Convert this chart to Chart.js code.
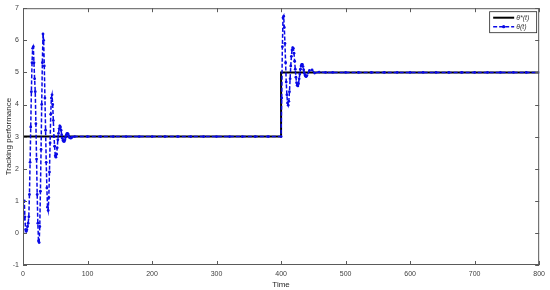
<!DOCTYPE html>
<html>
<head>
<meta charset="utf-8">
<script src="https://cdn.jsdelivr.net/npm/chart.js@4"></script>
<style>
  html, body { margin: 0; padding: 0; background: #fff; }
  canvas { display: block; }
</style>
</head>
<body>
<canvas id="chart" width="550" height="290"></canvas>
<script>
/* ── Data ─────────────────────────────────────────────────── */

/* reference signal θ*(t): step from 3 to 5 at t = 400 */
const refTime  = [0, 400, 400, 800];
const refValue = [3, 3, 5, 5];

/* tracked output θ(t) */
const outTime = [
  0, 1, 2, 3, 4, 5, 6, 7, 8, 9,
  10, 11, 12, 13, 14, 15, 16, 17, 18, 19,
  20, 21, 22, 23, 24, 25, 26, 27, 28, 29,
  30, 31, 32, 33, 34, 35, 36, 37, 38, 39,
  40, 41, 42, 43, 44, 45, 46, 47, 48, 49,
  50, 51, 52, 53, 54, 55, 56, 57, 58, 59,
  60, 61, 62, 63, 64, 65, 66, 67, 68, 69,
  70, 71, 72, 74, 76, 80,
  100, 120, 140, 160, 180, 200, 220, 240, 260, 280, 300, 320, 340, 360, 380, 400,
  401, 402, 403, 404, 405, 406, 407, 408, 409, 410,
  411, 412, 413, 414, 415, 416, 417, 418, 419, 420,
  421, 422, 423, 424, 425, 426, 427, 428, 429, 430,
  431, 432, 433, 434, 435, 436, 437, 438, 439, 440,
  444, 448, 452, 459, 469,
  480, 500, 520, 540, 560, 580, 600, 620, 640, 660, 680, 700, 720, 740, 760, 780, 800
];
const outValue = [
  0, 0.5, 1.0, 0.5, 0.1, 0.05, 0.1, 0.2, 0.3, 0.5,
  1.2, 2.2, 3.3, 4.4, 5.3, 5.75, 5.8, 5.3, 4.8, 4.4,
  3.4, 2.3, 1.2, 0.3, -0.25, -0.3, 0.2, 1.3, 2.6, 4.0,
  5.3, 6.2, 6.0, 5.2, 4.2, 3.2, 2.2, 1.4, 0.8, 0.7,
  1.1, 1.9, 2.8, 3.7, 4.2, 4.3, 4.0, 3.5, 3.0, 2.7,
  2.4, 2.36, 2.45, 2.65, 2.9, 3.1, 3.25, 3.33, 3.3, 3.2,
  3.05, 2.95, 2.88, 2.85, 2.85, 2.9, 2.98, 3.05, 3.09, 3.1,
  3.08, 3.02, 2.97, 2.95, 2.98, 3.0,
  3, 3, 3, 3, 3, 3, 3, 3, 3, 3, 3, 3, 3, 3, 3, 3,
  4.2, 5.8, 6.7, 6.75, 6.4, 5.9, 5.3, 4.7, 4.3, 4.05,
  3.98, 4.1, 4.4, 4.8, 5.2, 5.5, 5.7, 5.77, 5.75, 5.6,
  5.35, 5.1, 4.85, 4.68, 4.6, 4.58, 4.65, 4.8, 4.95, 5.1,
  5.2, 5.25, 5.25, 5.18, 5.08, 4.98, 4.92, 4.88, 4.87, 4.9,
  5.06, 5.08, 4.98, 5.01, 5.0,
  5, 5, 5, 5, 5, 5, 5, 5, 5, 5, 5, 5, 5, 5, 5, 5, 5
];

const xTicks = [0, 100, 200, 300, 400, 500, 600, 700, 800];
const yTicks = [-1, 0, 1, 2, 3, 4, 5, 6, 7];

/* ── Style ────────────────────────────────────────────────── */
const AXIS_COLOR = '#5a5a5a';
const TEXT_COLOR = '#404040';
const BLUE       = '#0a0ae6';
const FONT       = 'Liberation Sans, Arial, sans-serif';

const toPoints = (xs, ys) => xs.map((x, i) => ({ x, y: ys[i] }));

/* MATLAB-like box: frame + inward ticks on all four sides + legend */
const matlabBox = {
  id: 'matlabBox',
  afterDraw(chart) {
    const { ctx, chartArea: a, scales: { x, y } } = chart;
    const t = 4;
    ctx.save();
    ctx.strokeStyle = AXIS_COLOR;
    ctx.lineWidth = 1;
    ctx.strokeRect(a.left + 0.5, a.top + 0.5, a.right - a.left - 1, a.bottom - a.top - 1);
    ctx.beginPath();
    xTicks.forEach(v => {
      const px = Math.round(x.getPixelForValue(v)) + 0.5;
      ctx.moveTo(px, a.bottom); ctx.lineTo(px, a.bottom - t);
      ctx.moveTo(px, a.top);    ctx.lineTo(px, a.top + t);
    });
    yTicks.forEach(v => {
      const py = Math.round(y.getPixelForValue(v)) + 0.5;
      ctx.moveTo(a.left, py);  ctx.lineTo(a.left + t, py);
      ctx.moveTo(a.right, py); ctx.lineTo(a.right - t, py);
    });
    ctx.stroke();

    /* legend */
    const bx = a.right - 50, by = a.top + 3, bw = 47, bh = 21;
    ctx.fillStyle = '#fff';
    ctx.fillRect(bx, by, bw, bh);
    ctx.strokeStyle = '#262626';
    ctx.lineWidth = 0.8;
    ctx.strokeRect(bx + 0.5, by + 0.5, bw, bh);

    const r1 = by + 6.5, r2 = by + 15.5;
    ctx.strokeStyle = '#000';
    ctx.lineWidth = 2;
    ctx.beginPath(); ctx.moveTo(bx + 4, r1); ctx.lineTo(bx + 25, r1); ctx.stroke();

    ctx.strokeStyle = BLUE;
    ctx.lineWidth = 1.5;
    ctx.setLineDash([4, 2]);
    ctx.beginPath(); ctx.moveTo(bx + 4, r2); ctx.lineTo(bx + 25, r2); ctx.stroke();
    ctx.setLineDash([]);
    ctx.fillStyle = BLUE;
    ctx.beginPath(); ctx.arc(bx + 14.5, r2, 1.6, 0, Math.PI * 2); ctx.fill();

    ctx.fillStyle = TEXT_COLOR;
    ctx.font = `italic 7px ${FONT}`;
    ctx.textBaseline = 'middle';
    ctx.fillText('θ*(t)', bx + 27, r1);
    ctx.fillText('θ(t)',  bx + 27, r2);
    ctx.restore();
  },
};

/* ── Chart ────────────────────────────────────────────────── */
new Chart(document.getElementById('chart').getContext('2d'), {
  type: 'line',
  data: {
    datasets: [
      {
        label: 'θ*(t)',
        data: toPoints(refTime, refValue),
        borderColor: '#000',
        borderWidth: 2,
        pointRadius: 0,
        tension: 0,
        order: 2,
      },
      {
        label: 'θ(t)',
        data: toPoints(outTime, outValue),
        borderColor: BLUE,
        backgroundColor: BLUE,
        borderWidth: 1.5,
        borderDash: [4, 2],
        pointRadius: 1.4,
        pointBorderWidth: 0,
        tension: 0,
        order: 1,
      },
    ],
  },
  options: {
    responsive: false,
    animation: false,
    layout: { padding: { top: 7, right: 10, left: 0, bottom: 0 } },
    plugins: {
      legend:  { display: false },
      tooltip: { enabled: false },
    },
    scales: {
      x: {
        type: 'linear',
        min: 0,
        max: 800,
        afterBuildTicks: s => { s.ticks = xTicks.map(v => ({ value: v })); },
        afterFit: s => { s.height = 25; },
        grid: { display: false, drawTicks: false, tickLength: 0 },
        border: { display: false },
        ticks: { color: TEXT_COLOR, font: { family: FONT, size: 7 }, padding: 5, maxRotation: 0 },
        title: { display: true, text: 'Time', color: '#262626', font: { family: FONT, size: 8 }, padding: 0 },
      },
      y: {
        type: 'linear',
        min: -1,
        max: 7,
        afterBuildTicks: s => { s.ticks = yTicks.map(v => ({ value: v })); },
        afterFit: s => { s.width = 23; },
        grid: { display: false, drawTicks: false, tickLength: 0 },
        border: { display: false },
        ticks: { color: TEXT_COLOR, font: { family: FONT, size: 7 }, padding: 4 },
        title: { display: true, text: 'Tracking performance', color: '#262626', font: { family: FONT, size: 8 }, padding: { top: 4, bottom: 0 } },
      },
    },
  },
  plugins: [matlabBox],
});
</script>
</body>
</html>
